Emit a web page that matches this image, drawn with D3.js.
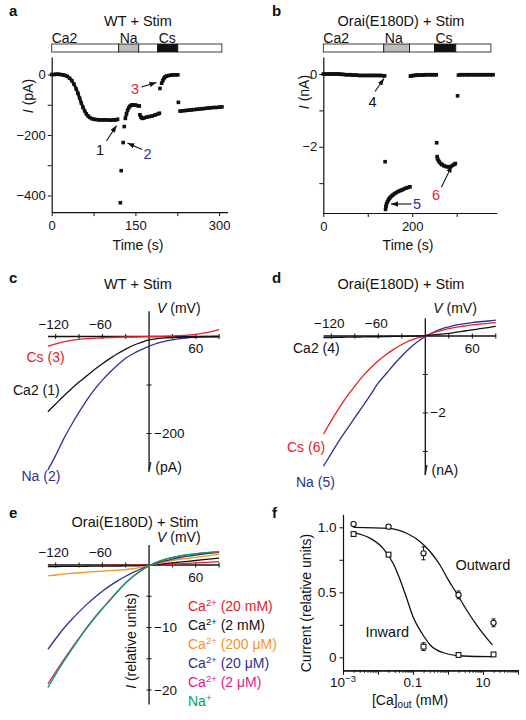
<!DOCTYPE html>
<html><head><meta charset="utf-8">
<script src="https://cdn.jsdelivr.net/npm/d3@7/dist/d3.min.js"></script>
<style>
html,body{margin:0;padding:0;background:#fff;}
svg text{font-family:"Liberation Sans",Arial,Helvetica,sans-serif;fill:#111;}
</style></head><body>
<svg id="fig" width="526" height="720" xmlns="http://www.w3.org/2000/svg"></svg>
<script>
// ================= DATA =================
// Panel a: WT + Stim, time course (s, pA)
const aSolNames = ["Ca2","Na","Ca2","Cs","Ca2"];
const aSolStart = [0,120,156,190,226];
const aSolEnd   = [120,156,190,226,305];
const aT_ca1 = [0,4,8,12,16,20,24,28,32,36,40,44,47,50,53,56,59,62,65,68,72,76,80,85,90,95,100,105,110,115,118];
const aI_ca1 = [0,0,1,1,0,-1,-3,-6,-12,-20,-32,-48,-62,-78,-94,-108,-120,-130,-137,-142,-146,-148,-149,-150,-150,-150,-150,-151,-150,-150,-148];
const aT_na  = [132,134,136,138,140,143,146,150,154,157];
const aI_na  = [-145,-130,-118,-110,-105,-101,-100,-101,-103,-104];
const aT_ca2 = [158,160,162,165,170,175,180,185,190,193];
const aI_ca2 = [-133,-141,-145,-144,-141,-139,-137,-134,-131,-128];
const aT_cs  = [197,199,201,203,206,210,214,218,222,226];
const aI_cs  = [-29,-20,-13,-8,-5,-3,-2,-1,-1,-1];
const aT_ca3 = [230,235,240,245,250,255,260,265,270,275,280,285,290,295,300,305];
const aI_ca3 = [-121,-120,-119,-118,-117,-116,-115,-114,-113,-112,-111,-110,-109,-109,-108,-107];
const aT_iso = [123,124.5,128,130,194,227];
const aI_iso = [-424,-318,-225,-172,-46,-92];
const aXTicks = [0,75,150,225,300], aXLabels = [0,150,300];
const aYTicks = [0,-100,-200,-300,-400], aYLabels = [0,-200,-400];

// Panel b: Orai(E180D) + Stim, time course (s, nA)
const bSolNames = ["Ca2","Na","Ca2","Cs","Ca2"];
const bSolStart = [0,136,194,250,298];
const bSolEnd   = [136,194,250,298,377];
const bT_ca1 = [0,5,10,15,20,25,30,35,40,45,50,55,60,65,70,75,80,85,90,95,100,105,110,115,120,125,130,135,138];
const bI_ca1 = [0,0,0,0,0,0,0,0,-0.01,-0.01,-0.02,-0.02,-0.02,-0.03,-0.03,-0.03,-0.04,-0.04,-0.04,-0.04,-0.04,-0.04,-0.04,-0.04,-0.04,-0.04,-0.04,-0.05,-0.05];
const bT_na  = [140,141,142,144,146,148,150,153,156,160,164,168,172,176,180,185,190,195];
const bI_na  = [-3.72,-3.64,-3.58,-3.52,-3.47,-3.43,-3.40,-3.36,-3.33,-3.29,-3.26,-3.23,-3.21,-3.19,-3.17,-3.14,-3.12,-3.10];
const bT_ca2 = [196,198,202,206,210,215,220,225,230,235,240,245,250,254];
const bI_ca2 = [-0.06,-0.05,-0.04,-0.04,-0.03,-0.03,-0.03,-0.03,-0.02,-0.02,-0.02,-0.02,-0.02,-0.02];
const bT_cs  = [256,257,259,261,264,267,271,275,279,283,287,291,295,297];
const bI_cs  = [-2.27,-2.33,-2.38,-2.42,-2.46,-2.49,-2.52,-2.54,-2.55,-2.55,-2.54,-2.51,-2.48,-2.46];
const bT_ca3 = [304,308,313,318,323,328,333,338,343,348,353,358,363,368,373,378,382];
const bI_ca3 = [-0.03,-0.02,-0.02,-0.02,-0.02,-0.02,-0.02,-0.02,-0.02,-0.02,-0.02,-0.02,-0.02,-0.02,-0.02,-0.02,-0.02];
const bT_iso = [139,255,302];
const bI_iso = [-2.41,-1.89,-0.60];
const bXTicks = [0,100,200,300], bXLabels = [0,200];
const bYTicks = [0,-1,-2,-3], bYLabels = [0,-2];

// I–V panels: voltage grid (mV)
const ivV = [-130,-120,-110,-100,-90,-80,-70,-60,-50,-40,-30,-20,-10,0,10,20,30,40,50,60,70,80,90];
const ivXTicks = [-120,-90,-60,-30,30,60,90];
// Panel c (pA)
const cCs3  = [-20,-15,-11,-8,-6,-4.5,-3.5,-2.5,-2,-1.5,-1,-1,-0.5,0,0,0.5,1,2,3,4.5,7,10,14];
const cCa1  = [-155,-139,-123,-108,-94,-81,-68,-56,-45,-35,-26,-18,-12,-7,-4.5,-3,-2,-1.5,-1,-1,-0.5,-0.5,-0.5];
const cNa2  = [-275,-245,-212,-183,-156,-131,-109,-90,-73,-58,-45,-35,-27,-20,-14,-10,-7,-4.5,-2.5,-1,0,0.5,1];
const cYTicks = [-100,-200];
// Panel d (nA)
const dCa4  = [-0.04,-0.04,-0.035,-0.03,-0.03,-0.025,-0.02,-0.02,-0.015,-0.01,-0.01,-0.005,0,0.01,0.03,0.05,0.07,0.1,0.13,0.16,0.19,0.22,0.25];
const dCs6  = [-2.55,-2.20,-1.87,-1.57,-1.30,-1.05,-0.83,-0.64,-0.48,-0.34,-0.22,-0.12,-0.05,0.01,0.08,0.14,0.19,0.23,0.26,0.29,0.31,0.33,0.35];
const dNa5  = [-3.38,-3.05,-2.72,-2.42,-2.12,-1.83,-1.53,-1.22,-0.98,-0.74,-0.52,-0.32,-0.15,-0.01,0.09,0.18,0.24,0.29,0.32,0.35,0.37,0.39,0.41];
const dYTicks = [-1,-2,-3];
// Panel e (relative units)
const eCa20mM  = [-0.15,-0.14,-0.13,-0.12,-0.11,-0.1,-0.09,-0.08,-0.07,-0.06,-0.05,-0.04,-0.02,0,0.04,0.08,0.13,0.19,0.26,0.33,0.4,0.47,0.55];
const eCa2mM   = [-0.25,-0.24,-0.23,-0.22,-0.21,-0.2,-0.19,-0.18,-0.17,-0.16,-0.15,-0.13,-0.09,-0.02,0.08,0.2,0.33,0.46,0.59,0.72,0.85,0.98,1.1];
const eCa200uM = [-1.75,-1.6,-1.47,-1.35,-1.24,-1.14,-1.05,-0.97,-0.9,-0.82,-0.73,-0.6,-0.38,-0.1,0.2,0.48,0.72,0.92,1.08,1.22,1.38,1.55,1.75];
const eCa20uM  = [-13.5,-11.8,-10.2,-8.8,-7.5,-6.3,-5.2,-4.2,-3.3,-2.5,-1.8,-1.15,-0.6,-0.15,0.3,0.65,0.95,1.2,1.42,1.6,1.76,1.9,2.02];
const eCa2uM   = [-19.0,-17.1,-15.2,-13.4,-11.7,-10.0,-8.4,-6.95,-5.55,-4.15,-2.85,-1.75,-0.85,-0.12,0.45,0.88,1.18,1.42,1.62,1.78,1.92,2.02,2.12];
const eNa      = [-19.6,-17.5,-15.5,-13.6,-11.8,-10.1,-8.5,-7.0,-5.6,-4.2,-2.9,-1.8,-0.9,-0.15,0.45,0.9,1.2,1.45,1.65,1.8,1.95,2.05,2.15];
const eIon    = ["Ca","Ca","Ca","Ca","Ca","Na"];
const eCharge = ["2+","2+","2+","2+","2+","+"];
const eConc   = [" (20 mM)"," (2 mM)"," (200 \u03bcM)"," (20 \u03bcM)"," (2 \u03bcM)",""];
const eYTicks = [-5,-10,-15,-20];
// Panel f
const fConc   = [0.002,0.02,0.2,2,20];
const fOut    = [1.025,1.005,0.80,0.48,0.265];
const fOutErr = [0.008,0.012,0.05,0.03,0.03];
const fIn     = [0.948,0.79,0.082,0.018,0.022];
const fInErr  = [0.008,0.008,0.03,0.008,0.008];
const fFitInX  = [0.002,0.006,0.014,0.027,0.043,0.066,0.1,0.18,0.31,0.74,2.7,18.5];
const fFitInY  = [0.959,0.915,0.838,0.723,0.595,0.454,0.312,0.185,0.095,0.035,0.01,0.005];
const fFitOutX = [0.002,0.02,0.066,0.16,0.31,0.59,1.02,1.77,3.4,6.6,18.5];
const fFitOutY = [1.0,0.992,0.954,0.889,0.812,0.71,0.595,0.492,0.364,0.248,0.095];

// ================= DRAWING =================
const RED="#e8202a", BLUE="#2e3192", ORANGE="#f7941d", MAGENTA="#e5178b", GREEN="#00a651", INK="#111";
const svg = d3.select("#fig");
svg.append("rect").attr("width",526).attr("height",720).attr("fill","#fff");
svg.append("defs").append("marker").attr("id","arr").attr("viewBox","0 0 8 6")
  .attr("refX",8).attr("refY",3).attr("markerWidth",7).attr("markerHeight",5.5)
  .attr("orient","auto").attr("markerUnits","userSpaceOnUse")
  .append("path").attr("d","M0,0L8,3L0,6Z").attr("fill",INK);

const fmt = d => (d<0?"\u2212":"")+Math.abs(d);
function text(g,x,y,s,o={}){
  const t=g.append("text").attr("x",x).attr("y",y).text(s)
    .attr("font-size",o.size||13.5).attr("text-anchor",o.anchor||"start");
  if(o.color) t.style("fill",o.color);
  if(o.bold) t.attr("font-weight","bold");
  return t;
}
function panelLabel(x,y,s){ text(svg,x,y,s,{size:15,bold:true}); }
function italicLabel(g,x,y,it,rest,o={}){
  const t=g.append("text").attr("x",x).attr("y",y).attr("font-size",o.size||13.5).attr("text-anchor",o.anchor||"start");
  if(o.rotate) t.attr("transform",`rotate(-90,${x},${y})`);
  t.append("tspan").attr("font-style","italic").text(it);
  t.append("tspan").text(rest);
  return t;
}
function styleAxis(ax){
  ax.attr("font-size",13);
  ax.select(".domain").attr("stroke",INK).attr("stroke-width",1.2);
  ax.selectAll(".tick line").attr("stroke",INK).attr("stroke-width",1);
}
function series(g,x,y,T,I,connect){
  const pts=T.map((t,i)=>[t,I[i]]);
  if(connect) g.append("path").datum(pts)
    .attr("d",d3.line().x(d=>x(d[0])).y(d=>y(d[1])))
    .attr("fill","none").attr("stroke",INK).attr("stroke-width",3.0).attr("stroke-linejoin","round");
  g.selectAll(null).data(pts).join("rect")
    .attr("x",d=>x(d[0])-1.8).attr("y",d=>y(d[1])-1.8).attr("width",3.6).attr("height",3.6).attr("fill",INK);
}
const solFill = {Ca2:"#fff",Na:"#bdbdbd",Cs:"#111"};
function solutionBar(g,x,names,st,en){
  const y0=44,h=8;
  g.selectAll(null).data(names.map((n,i)=>({n,s:st[i],e:en[i]}))).join("rect")
    .attr("x",d=>x(d.s)).attr("width",d=>x(d.e)-x(d.s)).attr("y",y0).attr("height",h)
    .attr("fill",d=>solFill[d.n]).attr("stroke",INK).attr("stroke-width",0.8);
  const seen=new Set();
  names.forEach((n,i)=>{ if(!seen.has(n)){ seen.add(n); text(g,x(st[i])+(i?1:0),y0-1.5,n,{size:14}); } });
}
function tsAxes(g,x,y,xT,xL,yT,yL){
  const ax=g.append("g").attr("transform",`translate(0,${y.range()[0]})`)
    .call(d3.axisBottom(x).tickValues(xT).tickSize(4).tickSizeOuter(0).tickPadding(5).tickFormat(d=>xL.includes(d)?fmt(d):""));
  styleAxis(ax);
  const ay=g.append("g").attr("transform",`translate(${x.range()[0]},0)`)
    .call(d3.axisLeft(y).tickValues(yT).tickSize(4).tickSizeOuter(0).tickPadding(2).tickFormat(d=>yL.includes(d)?fmt(d):""));
  styleAxis(ay);
}
function arrow(g,x1,y1,x2,y2){
  g.append("line").attr("x1",x1).attr("y1",y1).attr("x2",x2).attr("y2",y2)
   .attr("stroke",INK).attr("stroke-width",1.1).attr("marker-end","url(#arr)");
}

// ---------- Panel a ----------
{
  const g=svg.append("g");
  const x=d3.scaleLinear([0,315],[51.7,227.5]);
  const y=d3.scaleLinear([-455,58],[212.1,57.0]);
  panelLabel(9,16,"a");
  text(g,138,26,"WT + Stim",{anchor:"middle",size:14.5});
  solutionBar(g,x,aSolNames,aSolStart,aSolEnd);
  tsAxes(g,x,y,aXTicks,aXLabels,aYTicks,aYLabels);
  [[aT_ca1,aI_ca1],[aT_na,aI_na],[aT_ca2,aI_ca2],[aT_cs,aI_cs],[aT_ca3,aI_ca3]]
    .forEach(([T,I])=>series(g,x,y,T,I,true));
  series(g,x,y,aT_iso,aI_iso,false);
  text(g,138,250,"Time (s)",{anchor:"middle",size:14});
  italicLabel(g,33,96,"I"," (pA)",{rotate:true,anchor:"middle",size:14});
  text(g,100,155,"1",{anchor:"middle",size:14.5});
  arrow(g,106.5,141,116.5,125.5);
  text(g,147.5,158.5,"2",{anchor:"middle",size:14.5,color:BLUE});
  arrow(g,142,149.5,127.5,143);
  text(g,135,93.5,"3",{anchor:"middle",size:14.5,color:RED});
  arrow(g,141.5,87,156.5,82.5);
}
// ---------- Panel b ----------
{
  const g=svg.append("g");
  const x=d3.scaleLinear([0,390],[323.3,496.7]);
  const y=d3.scaleLinear([-3.82,0.47],[213.0,56.9]);
  panelLabel(272,16,"b");
  text(g,401,26,"Orai(E180D) + Stim",{anchor:"middle",size:14.5});
  solutionBar(g,x,bSolNames,bSolStart,bSolEnd);
  tsAxes(g,x,y,bXTicks,bXLabels,bYTicks,bYLabels);
  [[bT_ca1,bI_ca1],[bT_na,bI_na],[bT_ca2,bI_ca2],[bT_cs,bI_cs],[bT_ca3,bI_ca3]]
    .forEach(([T,I])=>series(g,x,y,T,I,true));
  series(g,x,y,bT_iso,bI_iso,false);
  text(g,408,250,"Time (s)",{anchor:"middle",size:14});
  italicLabel(g,309,92,"I"," (nA)",{rotate:true,anchor:"middle",size:14});
  text(g,372.5,107,"4",{anchor:"middle",size:14.5});
  arrow(g,375,91.5,384,78.5);
  text(g,417,209,"5",{anchor:"middle",size:14.5,color:BLUE});
  arrow(g,411.5,204,391,204);
  text(g,436,199.5,"6",{anchor:"middle",size:14.5,color:RED});
  arrow(g,441.5,187,452,165.5);
}
// ---------- I–V axes helper ----------
function ivAxes(g,x,y,yT,yLabelVals,lab){
  const y0=y(0), x0=x(0);
  g.append("line").attr("x1",x.range()[0]).attr("x2",x.range()[1]).attr("y1",y0).attr("y2",y0).attr("stroke",INK).attr("stroke-width",1.3);
  g.append("line").attr("x1",x0).attr("x2",x0).attr("y1",y.range()[1]).attr("y2",y.range()[0]).attr("stroke",INK).attr("stroke-width",1.3);
  g.selectAll(null).data(ivXTicks).join("line").attr("x1",d=>x(d)).attr("x2",d=>x(d)).attr("y1",y0-2.5).attr("y2",y0+2.5).attr("stroke",INK).attr("stroke-width",1);
  g.selectAll(null).data(yT).join("line").attr("y1",d=>y(d)).attr("y2",d=>y(d)).attr("x1",x0-2.5).attr("x2",x0+2.5).attr("stroke",INK).attr("stroke-width",1);
  [-120,-60].forEach(v=>text(g,x(v)-2,y0-8,fmt(v),{anchor:"middle",size:13.5}));
  text(g,x(60),y0+16.5,"60",{anchor:"middle",size:13.5});
  yLabelVals.forEach(v=>text(g,x0+5,y(v)+4.5,fmt(v),{size:13.5}));
  italicLabel(g,x0+8,y0-23.5,"V"," (mV)",{size:14});
  if(lab) italicLabel(g,x0-1.5,y.range()[0]+2,"I",lab,{size:14});
}
function ivCurve(g,x,y,V,I,color){
  g.append("path").datum(V.map((v,i)=>[v,I[i]]))
   .attr("d",d3.line().curve(d3.curveMonotoneX).x(d=>x(d[0])).y(d=>y(d[1])))
   .attr("fill","none").attr("stroke",color).attr("stroke-width",1.3);
}
// ---------- Panel c ----------
{
  const g=svg.append("g");
  const x=d3.scaleLinear([-130,90],[47.9,219.1]);
  const y=d3.scaleLinear([-275,52],[469.9,311.3]);
  panelLabel(9,283,"c");
  text(g,138,289,"WT + Stim",{anchor:"middle",size:14.5});
  ivAxes(g,x,y,cYTicks,[-200]," (pA)");
  ivCurve(g,x,y,ivV,cNa2,BLUE);
  ivCurve(g,x,y,ivV,cCa1,INK);
  ivCurve(g,x,y,ivV,cCs3,RED);
  text(g,26.5,361.5,"Cs (3)",{color:RED,size:14});
  text(g,13,395,"Ca2 (1)",{size:14});
  text(g,21.5,481,"Na (2)",{color:BLUE,size:14});
}
// ---------- Panel d ----------
{
  const g=svg.append("g");
  const x=d3.scaleLinear([-130,90],[323.5,495.8]);
  const y=d3.scaleLinear([-3.57,0.46],[473.4,318.3]);
  panelLabel(272,283,"d");
  text(g,401,289,"Orai(E180D) + Stim",{anchor:"middle",size:14.5});
  ivAxes(g,x,y,dYTicks,[-2]," (nA)");
  ivCurve(g,x,y,ivV,dNa5,BLUE);
  ivCurve(g,x,y,ivV,dCs6,RED);
  ivCurve(g,x,y,ivV,dCa4,INK);
  text(g,293,353,"Ca2 (4)",{size:14});
  text(g,287,451.5,"Cs (6)",{color:RED,size:14});
  text(g,296,487,"Na (5)",{color:BLUE,size:14});
}
// ---------- Panel e ----------
{
  const g=svg.append("g");
  const x=d3.scaleLinear([-130,90],[47.9,219.1]);
  const y=d3.scaleLinear([-22.3,3.2],[704.4,545]);
  panelLabel(9,518,"e");
  text(g,135,527,"Orai(E180D) + Stim",{anchor:"middle",size:14.5});
  ivAxes(g,x,y,eYTicks,[-10,-20],null);
  italicLabel(g,136,641,"I"," (relative units)",{rotate:true,anchor:"middle",size:14});
  const series=[eCa20mM,eCa2mM,eCa200uM,eCa20uM,eCa2uM,eNa];
  const cols=[RED,INK,ORANGE,BLUE,MAGENTA,GREEN];
  series.forEach((s,i)=>ivCurve(g,x,y,ivV,s,cols[i]));
  eIon.forEach((ion,i)=>{
    const t=g.append("text").attr("x",188).attr("y",611+i*19).attr("font-size",14).style("fill",cols[i]);
    t.append("tspan").text(ion);
    t.append("tspan").attr("font-size",9.5).attr("dy",-5).text(eCharge[i]);
    t.append("tspan").attr("dy",5).text(eConc[i]);
  });
}
// ---------- Panel f ----------
{
  const g=svg.append("g");
  const x=d3.scaleLog([1e-3,100],[343,518]);
  const y=d3.scaleLinear([-0.1,1.1],[670.3,514.3]);
  panelLabel(272,518,"f");
  const decades=[1e-3,1e-2,0.1,1,10,100];
  const minors=[];
  decades.slice(0,-1).forEach(d=>{for(let k=2;k<10;k++) minors.push(d*k);});
  const axm=g.append("g").attr("transform",`translate(0,${y.range()[0]})`)
    .call(d3.axisBottom(x).tickValues(minors).tickSize(2.5).tickSizeOuter(0).tickFormat(""));
  styleAxis(axm);
  const ax=g.append("g").attr("transform",`translate(0,${y.range()[0]})`)
    .call(d3.axisBottom(x).tickValues(decades).tickSize(4.5).tickSizeOuter(0).tickFormat(""));
  styleAxis(ax);
  const ay=g.append("g").attr("transform",`translate(${x.range()[0]},0)`)
    .call(d3.axisLeft(y).tickValues([0,0.25,0.5,0.75,1]).tickSize(3.5).tickSizeOuter(0).tickPadding(3)
      .tickFormat(d=>d===0?"0":(d===0.5?"0.5":(d===1?"1.0":""))));
  styleAxis(ay);
  ay.attr("font-size",13.5);
  const t1=g.append("text").attr("x",x(1e-3)).attr("y",687).attr("font-size",13.5).attr("text-anchor","middle");
  t1.append("tspan").text("10");
  t1.append("tspan").attr("font-size",9.5).attr("dy",-5).text("\u22123");
  text(g,x(0.1),687,"0.1",{anchor:"middle",size:13.5});
  text(g,x(10),687,"10",{anchor:"middle",size:13.5});
  const xl=g.append("text").attr("x",410).attr("y",705).attr("font-size",14).attr("text-anchor","middle");
  xl.append("tspan").text("[Ca]");
  xl.append("tspan").attr("font-size",10).attr("dy",3).text("out");
  xl.append("tspan").attr("dy",-3).text(" (mM)");
  const yl=text(g,311,603,"Current (relative units)",{anchor:"middle",size:14});
  yl.attr("transform","rotate(-90,311,603)");
  const line=d3.line().curve(d3.curveMonotoneX).x(d=>x(d[0])).y(d=>y(d[1]));
  g.append("path").datum(fFitOutX.map((c,i)=>[c,fFitOutY[i]])).attr("d",line).attr("fill","none").attr("stroke",INK).attr("stroke-width",1.3);
  g.append("path").datum(fFitInX.map((c,i)=>[c,fFitInY[i]])).attr("d",line).attr("fill","none").attr("stroke",INK).attr("stroke-width",1.3);
  const eb=(vals,errs)=>fConc.forEach((c,i)=>{
    const cx=x(c), ylo=y(vals[i]-errs[i]), yhi=y(vals[i]+errs[i]);
    g.append("line").attr("x1",cx).attr("x2",cx).attr("y1",ylo).attr("y2",yhi).attr("stroke",INK).attr("stroke-width",1);
    [ylo,yhi].forEach(yy=>g.append("line").attr("x1",cx-2).attr("x2",cx+2).attr("y1",yy).attr("y2",yy).attr("stroke",INK).attr("stroke-width",1));
  });
  eb(fOut,fOutErr); eb(fIn,fInErr);
  g.selectAll(null).data(fConc.map((c,i)=>[c,fOut[i]])).join("circle")
    .attr("cx",d=>x(d[0])).attr("cy",d=>y(d[1])).attr("r",2.6).attr("fill","#fff").attr("stroke",INK).attr("stroke-width",1.1);
  g.selectAll(null).data(fConc.map((c,i)=>[c,fIn[i]])).join("rect")
    .attr("x",d=>x(d[0])-2.4).attr("y",d=>y(d[1])-2.4).attr("width",4.8).attr("height",4.8).attr("fill","#fff").attr("stroke",INK).attr("stroke-width",1.1);
  text(g,455.5,570,"Outward",{size:14.5});
  text(g,365.5,636.5,"Inward",{size:14.5});
}
</script></body></html>
